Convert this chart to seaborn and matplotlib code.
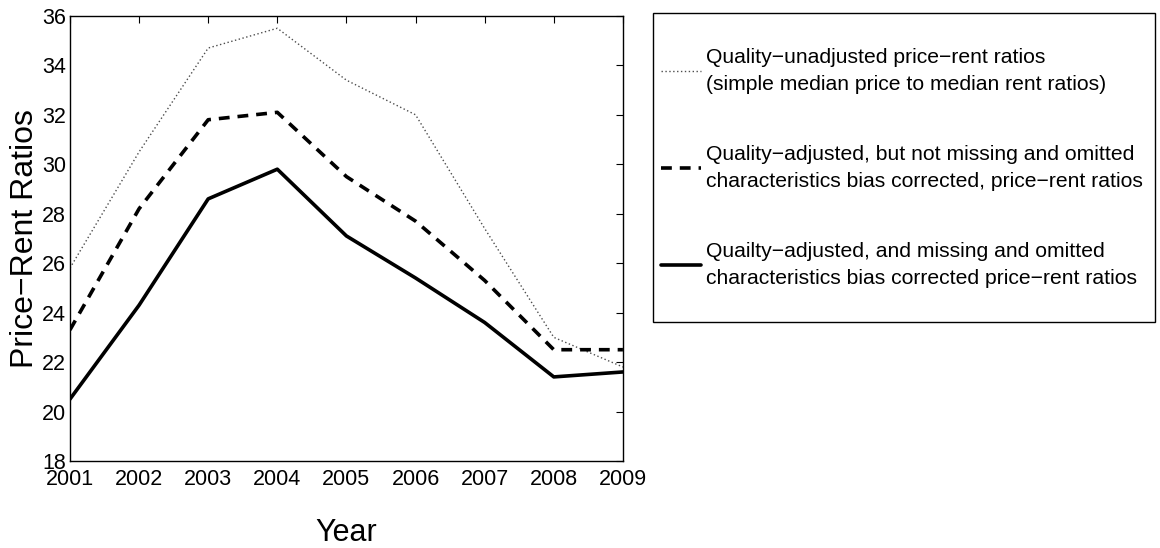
import matplotlib
matplotlib.use("Agg")
import matplotlib.pyplot as plt
from matplotlib.patches import Rectangle
import seaborn as sns
import pandas as pd

# Dati
years = [2001, 2002, 2003, 2004, 2005, 2006, 2007, 2008, 2009]
unadjusted = [25.8, 30.5, 34.7, 35.5, 33.4, 32.0, 27.4, 23.0, 21.8]
adjusted_partial = [23.3, 28.2, 31.8, 32.1, 29.5, 27.7, 25.3, 22.5, 22.5]
adjusted_full = [20.5, 24.3, 28.6, 29.8, 27.1, 25.4, 23.6, 21.4, 21.6]

labels = [
    "Quality\u2212unadjusted price\u2212rent ratios\n(simple median price to median rent ratios)",
    "Quality\u2212adjusted, but not missing and omitted\ncharacteristics bias corrected, price\u2212rent ratios",
    "Quailty\u2212adjusted, and missing and omitted\ncharacteristics bias corrected price\u2212rent ratios",
]

sns.set_style("white")
plt.rcParams['font.family'] = ['Liberation Sans', 'DejaVu Sans']
plt.rcParams['text.color'] = 'black'
plt.rcParams['axes.labelcolor'] = 'black'
plt.rcParams['xtick.color'] = 'black'
plt.rcParams['ytick.color'] = 'black'

df = pd.DataFrame({"year": years, "u": unadjusted, "p": adjusted_partial, "f": adjusted_full})

fig = plt.figure(figsize=(11.6, 5.48), dpi=100)
ax = fig.add_axes([0.0603, 0.1588, 0.4767, 0.8122])

sns.lineplot(data=df, x="year", y="u", ax=ax, color="0.3", lw=1.0, linestyle=(0, (1, 1.8)), label=labels[0])
sns.lineplot(data=df, x="year", y="p", ax=ax, color="black", lw=2.6, linestyle=(0, (3, 2.2)), label=labels[1])
sns.lineplot(data=df, x="year", y="f", ax=ax, color="black", lw=2.6, linestyle="-", label=labels[2])

ax.set_xlim(2001, 2009)
ax.set_ylim(18, 36)
ax.set_xticks(years)
ax.set_yticks(range(18, 37, 2))
ax.tick_params(direction="in", length=5, width=0.8, top=True, right=True, labelsize=15.5,
               color="black", labelcolor="black")
ax.tick_params(axis="x", pad=6)
ax.tick_params(axis="y", pad=3)
for s in ax.spines.values():
    s.set_color("black")
    s.set_linewidth(1.0)
ax.set_xlabel("Year", fontsize=22, color="black")
ax.set_ylabel("Price\u2212Rent Ratios", fontsize=23, color="black")
ax.xaxis.set_label_coords(0.5, -0.128)
ax.yaxis.set_label_coords(-0.054, 0.5)

# Riquadro della legenda
box = Rectangle((653 / 1160, 1 - 322 / 548), 502 / 1160, 309 / 548, transform=fig.transFigure,
                fill=False, edgecolor="black", linewidth=1.0)
fig.add_artist(box)

leg = ax.legend(loc="upper left", bbox_to_anchor=(661 / 1160, 1 - 48 / 548),
                bbox_transform=fig.transFigure, fontsize=15.2, frameon=False,
                borderpad=0, labelspacing=2.4, handlelength=1.9, handletextpad=0.24,
                borderaxespad=0)
for t in leg.get_texts():
    t.set_linespacing(1.55)
    t.set_color("black")

fig.savefig("out.png", dpi=100)
